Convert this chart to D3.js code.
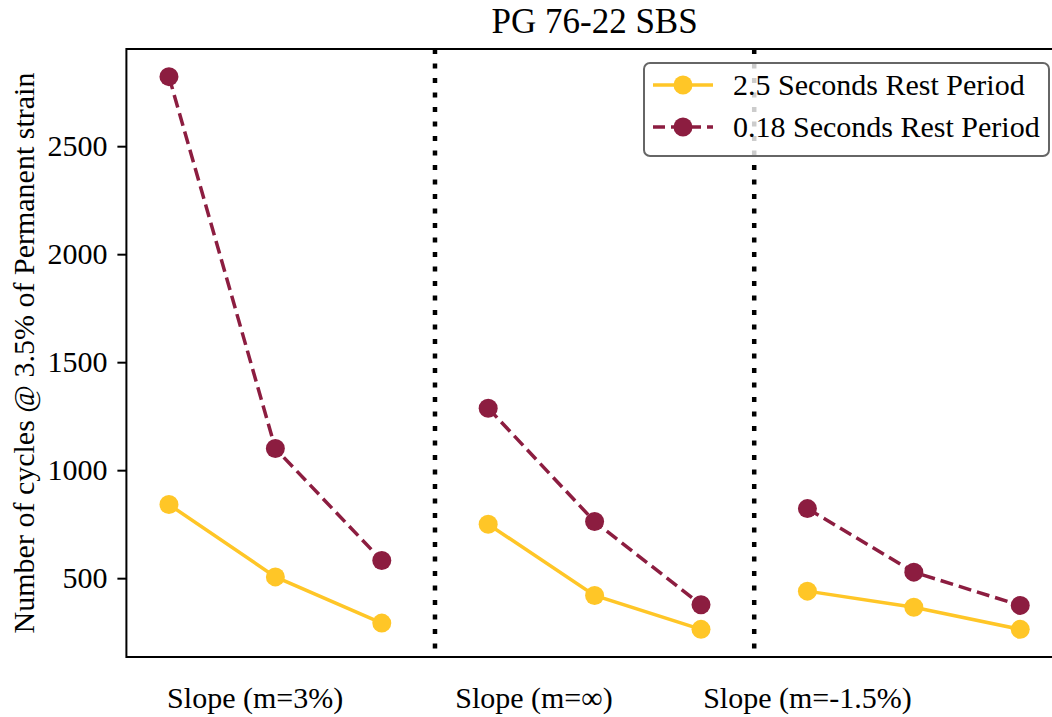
<!DOCTYPE html>
<html>
<head>
<meta charset="utf-8">
<script src="https://cdn.jsdelivr.net/npm/d3@7"></script>
<style>
  body { margin: 0; background: #fff; }
  text { font-family: "Palatino Linotype", Palatino, "Liberation Serif", serif; fill: #000; }
</style>
</head>
<body>
<div id="chart"></div>
<script>
// values
const categories = ["Slope (m=3%)", "Slope (m=\u221e)", "Slope (m=-1.5%)"];
const restLong = [841, 506, 292, 750, 420, 263, 440, 365, 263];    // 2.5 s rest
const restShort = [2822, 1100, 582, 1287, 762, 377, 822, 528, 374]; // 0.18 s rest
const yTicks = [500, 1000, 1500, 2000, 2500];
const seriesNames = ["2.5 Seconds Rest Period", "0.18 Seconds Rest Period"];

const width = 1052, height = 717;
const mLeft = 126.4, mRight = 1062.8, mTop = 49, mBottom = 657;
const gold = "#FFC627", maroon = "#8C1D40";

const svg = d3.select("#chart").append("svg")
  .attr("width", width)
  .attr("height", height);

let x = d3.scaleLinear().domain([-0.4, 8.4]).range([mLeft, mRight]);

let all = restLong.concat(restShort);
let ext = d3.extent(all);
let pad = (ext[1] - ext[0]) * 0.05;
let y = d3.scaleLinear().domain([ext[0] - pad, ext[1] + pad]).range([mBottom, mTop]);

// group separators
svg.selectAll(".sep")
  .data([2.5, 5.5])
  .enter().append("line")
  .attr("x1", d => x(d)).attr("x2", d => x(d))
  .attr("y1", mTop).attr("y2", mBottom)
  .attr("stroke", "#000")
  .attr("stroke-width", 4.5)
  .attr("stroke-dasharray", "5 9.5");

function drawSeries(values, color, dash) {
  // lines are broken between the three groups
  for (let g = 0; g < 3; g++) {
    let part = values.slice(g * 3, g * 3 + 3);
    svg.append("path")
      .datum(part)
      .attr("fill", "none")
      .attr("stroke", color)
      .attr("stroke-width", 3.5)
      .attr("stroke-dasharray", dash)
      .attr("d", d3.line().x((d, i) => x(g * 3 + i)).y(d => y(d)));
  }
  svg.append("g").selectAll("circle")
    .data(values)
    .enter().append("circle")
    .attr("cx", (d, i) => x(i))
    .attr("cy", d => y(d))
    .attr("r", 9.5)
    .attr("fill", color);
}

drawSeries(restLong, gold, null);
drawSeries(restShort, maroon, "13 6");

// frame
svg.append("rect")
  .attr("x", mLeft).attr("y", mTop)
  .attr("width", mRight - mLeft).attr("height", mBottom - mTop)
  .attr("fill", "none")
  .attr("stroke", "#000")
  .attr("stroke-width", 2);

// y axis
let yAxis = svg.append("g")
  .attr("transform", `translate(${mLeft},0)`)
  .call(d3.axisLeft(y).tickValues(yTicks).tickSize(9).tickPadding(10).tickFormat(d3.format("d")));
yAxis.select(".domain").remove();
yAxis.selectAll("line").attr("stroke", "#000").attr("stroke-width", 2);
yAxis.selectAll("text").attr("font-size", 30).attr("font-family", null);

// category labels under the axis
const labelPos = [0.81, 3.43, 6.0];
svg.selectAll(".cat")
  .data(categories)
  .enter().append("text")
  .attr("x", (d, i) => x(labelPos[i]))
  .attr("y", 708)
  .attr("text-anchor", "middle")
  .attr("font-size", 30)
  .text(d => d);

// title
svg.append("text")
  .attr("x", (mLeft + mRight) / 2)
  .attr("y", 33)
  .attr("text-anchor", "middle")
  .attr("font-size", 35)
  .text("PG 76-22 SBS");

// y label
svg.append("text")
  .attr("transform", `translate(34,${(mTop + mBottom) / 2}) rotate(-90)`)
  .attr("text-anchor", "middle")
  .attr("font-size", 30)
  .text("Number of cycles @ 3.5% of Permanent strain");

// legend
let lg = svg.append("g");
lg.append("rect")
  .attr("x", 644).attr("y", 63)
  .attr("width", 405).attr("height", 93)
  .attr("rx", 6)
  .attr("fill", "#fff")
  .attr("fill-opacity", 0.8)
  .attr("stroke", "#666")
  .attr("stroke-width", 2);

const legendRows = [
  { name: seriesNames[0], color: gold, dash: null, y: 85 },
  { name: seriesNames[1], color: maroon, dash: "12 6", y: 127 }
];
legendRows.forEach(r => {
  lg.append("line")
    .attr("x1", 653).attr("x2", 713)
    .attr("y1", r.y).attr("y2", r.y)
    .attr("stroke", r.color)
    .attr("stroke-width", 3.5)
    .attr("stroke-dasharray", r.dash);
  lg.append("circle")
    .attr("cx", 683).attr("cy", r.y)
    .attr("r", 9.5)
    .attr("fill", r.color);
  lg.append("text")
    .attr("x", 733).attr("y", r.y + 10)
    .attr("font-size", 30)
    .text(r.name);
});
</script>
</body>
</html>
